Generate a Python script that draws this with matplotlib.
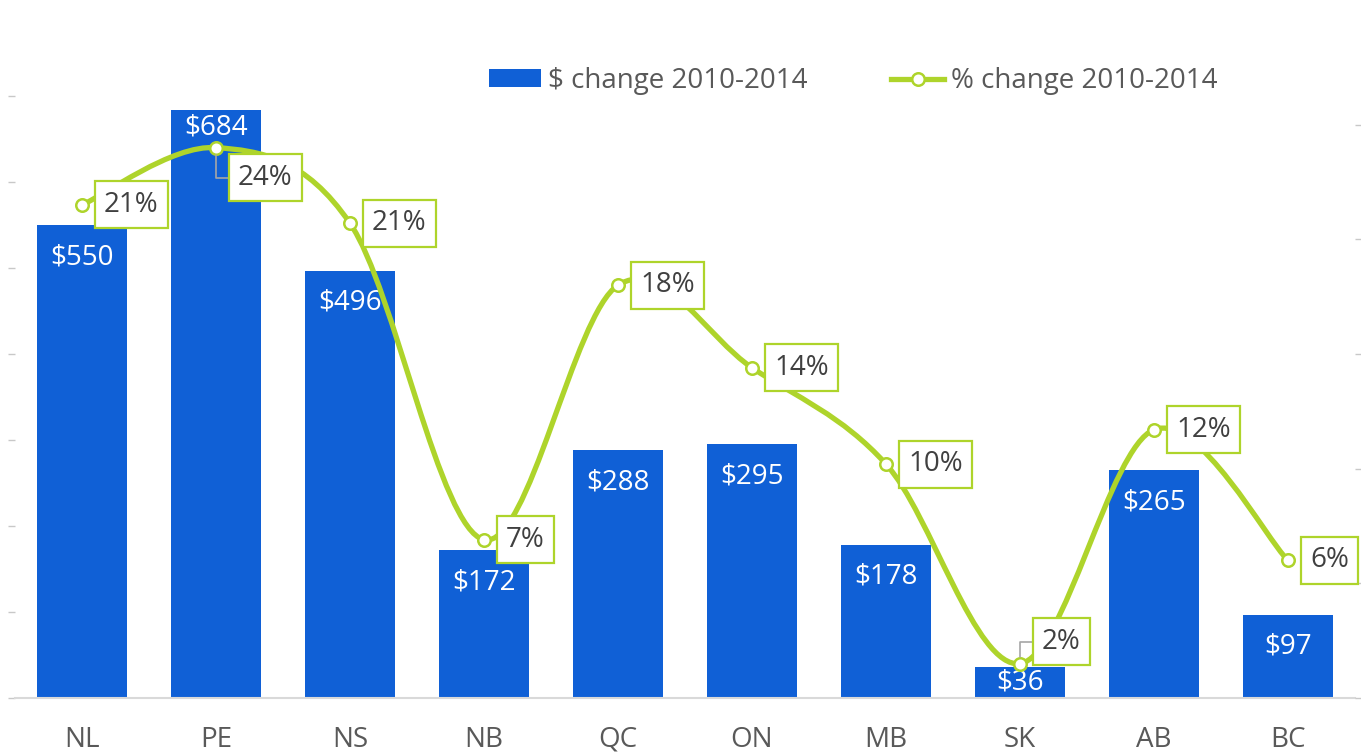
import matplotlib
matplotlib.use('Agg')
import matplotlib.pyplot as plt
from matplotlib.path import Path
from matplotlib.patches import PathPatch, Patch
from matplotlib.lines import Line2D

plt.rcParams['font.family'] = ['Open Sans', 'DejaVu Sans']

provinces = ['NL', 'PE', 'NS', 'NB', 'QC', 'ON', 'MB', 'SK', 'AB', 'BC']
dollar_change = [550, 684, 496, 172, 288, 295, 178, 36, 265, 97]
pct_change = [0.215, 0.240, 0.207, 0.069, 0.180, 0.144, 0.102, 0.015, 0.117, 0.060]
pct_labels = ['21%', '24%', '21%', '7%', '18%', '14%', '10%', '2%', '12%', '6%']

BLUE = '#1060D6'
GREEN = '#AED42B'
GREY_TXT = '#595959'
FS = 20

fig = plt.figure(figsize=(13.61, 7.56), dpi=100)
ax = fig.add_axes([15 / 1361, 58 / 756, 1340 / 1361, 688 / 756])
ax2 = ax.twinx()

x = list(range(len(provinces)))
bars = ax.bar(x, dollar_change, width=0.67, color=BLUE, zorder=2)

# value labels inside the bar tops (a couple were nudged in the original)
label_drop = [32, 18, 31, 32, 32, 32, 32, 15, 32, 32]
for xi, v, d in zip(x, dollar_change, label_drop):
    ax.annotate('$%d' % v, xy=(xi, v), xytext=(0, -d), textcoords='offset pixels',
                ha='center', va='center', color='white', fontsize=FS)

ax.set_xlim(-0.5, len(provinces) - 0.5)
ax.set_ylim(0, 800)
ax.set_yticks(range(0, 800, 100))
ax.set_yticklabels([])
ax.set_xticks(x)
ax.set_xticklabels(provinces, fontsize=FS, color=GREY_TXT)
ax.tick_params(axis='x', length=0, pad=20)
ax.tick_params(axis='y', length=5, color='#C8C8C8', width=1)

ax2.set_ylim(0, 0.30)
ax2.set_yticks([0, 0.05, 0.10, 0.15, 0.20, 0.25])
ax2.set_yticklabels([])
ax2.tick_params(axis='y', length=5, color='#C8C8C8', width=1)

for a in (ax, ax2):
    for s in ('top', 'left', 'right'):
        a.spines[s].set_visible(False)
ax.spines['bottom'].set_color('#D9D9D9')
ax.spines['bottom'].set_linewidth(1.5)
ax2.spines['bottom'].set_visible(False)

# smoothed line, drawn as a bezier path through the points
pts = list(zip(x, pct_change))
verts = [pts[0]]
codes = [Path.MOVETO]
for i in range(len(pts) - 1):
    p0 = pts[i - 1] if i > 0 else pts[i]
    p1 = pts[i]
    p2 = pts[i + 1]
    p3 = pts[i + 2] if i + 2 < len(pts) else pts[i + 1]
    c1 = (p1[0] + (p2[0] - p0[0]) / 6, p1[1] + (p2[1] - p0[1]) / 6)
    c2 = (p2[0] - (p3[0] - p1[0]) / 6, p2[1] - (p3[1] - p1[1]) / 6)
    verts += [c1, c2, p2]
    codes += [Path.CURVE4] * 3
ax2.add_patch(PathPatch(Path(verts, codes), facecolor='none', edgecolor=GREEN,
                        lw=3.8, capstyle='round', zorder=3))
ax2.plot(x, pct_change, linestyle='none', marker='o', markersize=9,
         markerfacecolor='white', markeredgecolor=GREEN, markeredgewidth=1.8, zorder=4)

# boxed percentage labels
label_dy = [0, -30, 0, 0, 0, 0, 0, 22, 0, 0]
for xi, v, txt, dy in zip(x, pct_change, pct_labels, label_dy):
    arrow = None
    if dy != 0:
        arrow = dict(arrowstyle='-', color='#A6A6A6', lw=1.2, shrinkA=0, shrinkB=5,
                     connectionstyle='angle,angleA=0,angleB=90,rad=0')
    ax2.annotate(txt, xy=(xi, v), xytext=(22, dy), textcoords='offset pixels',
                 ha='left', va='center', fontsize=FS, color='#404040', zorder=5,
                 bbox=dict(boxstyle='square,pad=0.34', fc='white', ec=GREEN, lw=1.6),
                 arrowprops=arrow)

handles = [Patch(facecolor=BLUE, edgecolor='none'),
           Line2D([0], [0], color=GREEN, lw=3.8, marker='o', markersize=9,
                  markerfacecolor='white', markeredgecolor=GREEN, markeredgewidth=1.8)]
fig.legend(handles, ['$ change 2010-2014', '% change 2010-2014'], loc='center',
           bbox_to_anchor=(853 / 1361, 1 - 81 / 756), ncol=2, frameon=False,
           fontsize=FS, labelcolor=GREY_TXT, handlelength=1.9, handleheight=0.6,
           handletextpad=0.25, columnspacing=3.0)

fig.savefig('out.png', dpi=100)
